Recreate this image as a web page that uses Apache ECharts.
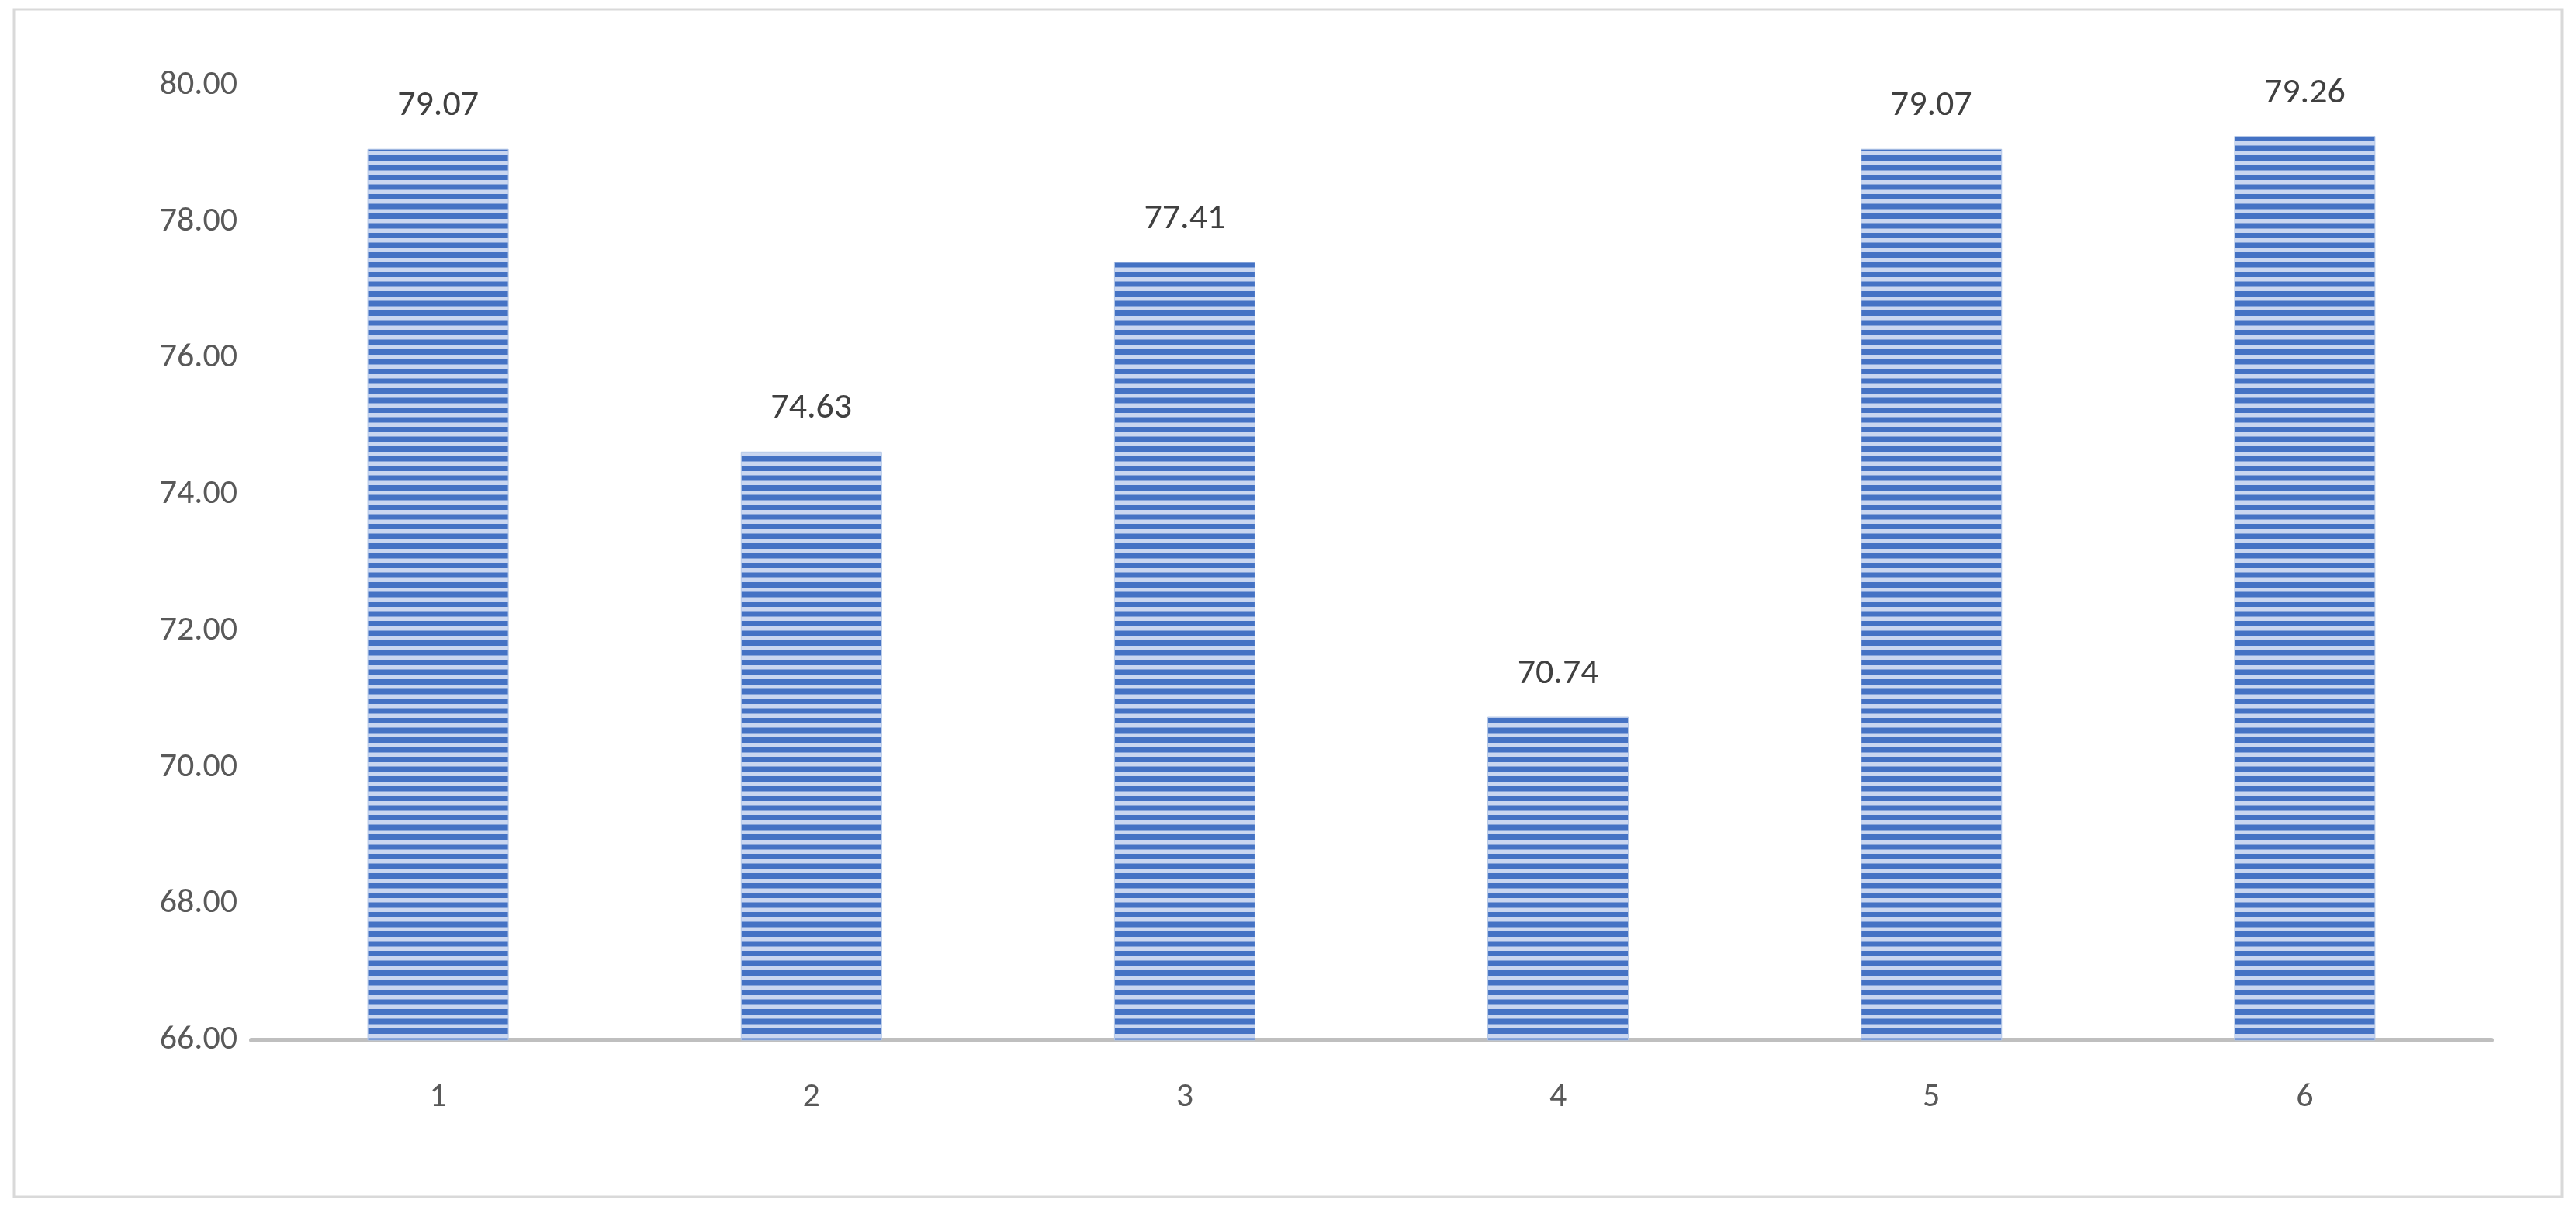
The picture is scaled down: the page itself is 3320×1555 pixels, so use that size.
<!DOCTYPE html><html><head><meta charset="utf-8">
<script src="https://cdn.jsdelivr.net/npm/echarts@6/dist/echarts.min.js"></script>
<style>html,body{margin:0;padding:0;background:#fff}#box{position:absolute;left:16px;top:12px;width:3282px;height:3px}#c{width:3320px;height:1555px}</style></head><body>
<div id="c"></div>
<script>
const categories = ['1','2','3','4','5','6'];
const values = [79.07, 74.63, 77.41, 70.74, 79.07, 79.26];
const cv = document.createElement('canvas'); cv.width = 8; cv.height = 12.5*2;
const g = cv.getContext('2d');
g.fillStyle = '#c9d6f0'; g.fillRect(0,0,8,25);
g.fillStyle = '#4472C4'; g.fillRect(0,0,8,7); g.fillRect(0,12.5,8,7);
const chart = echarts.init(document.getElementById('c'));
chart.setOption({
  animation:false,
  graphic:[{type:'rect',shape:{x:18,y:12,width:3284,height:1530},style:{fill:'none',stroke:'#d9d9d9',lineWidth:3}}],
  grid:{left:324,right:109,top:110,bottom:215},
  xAxis:{type:'category',data:categories,axisTick:{show:false},
    axisLine:{lineStyle:{color:'#bfbfbf',width:6}},
    axisLabel:{fontSize:44,color:'#595959',margin:52,fontFamily:'Calibri, Carlito, Liberation Sans, sans-serif'}},
  yAxis:{type:'value',min:66,max:80,interval:2,splitLine:{show:false},axisLine:{show:false},
    axisLabel:{fontSize:44,color:'#595959',margin:18,formatter:v=>v.toFixed(2),fontFamily:'Calibri, Carlito, Liberation Sans, sans-serif'}},
  series:[{type:'bar',data:values,barWidth:182,
    itemStyle:{color:{image:cv,repeat:'repeat'},borderColor:'#b4c7e7',borderWidth:1},
    label:{show:true,position:'top',distance:32,fontSize:46,color:'#404040',formatter:p=>p.value.toFixed(2),fontFamily:'Calibri, Carlito, Liberation Sans, sans-serif'}}]
});
</script></body></html>
